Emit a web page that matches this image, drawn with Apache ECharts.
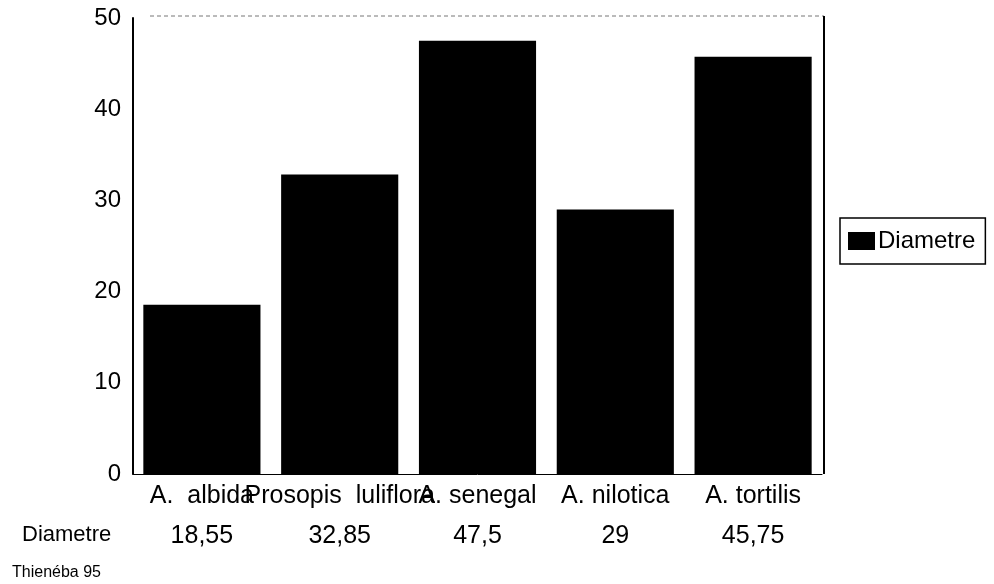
<!DOCTYPE html>
<html><head><meta charset="utf-8">
<script src="https://cdn.jsdelivr.net/npm/echarts@6/dist/echarts.min.js"></script>
<style>html,body{margin:0;padding:0;background:#fff}#c{width:994px;height:584px}</style>
</head><body><div id="c"></div>
<script>
const categories = ["A.  albida", "Prosopis  luliflora", "A. senegal", "A. nilotica", "A. tortilis"];
const diametre = [18.55, 32.85, 47.5, 29, 45.75];
const seriesName = "Diametre";
const yTicks = {min: 0, max: 50, interval: 10};
const footer = "Thienéba 95";

const fmt = v => String(v).replace('.', ',');
const chart = echarts.init(document.getElementById('c'));
const font = '"Liberation Sans", Arial, sans-serif';
chart.setOption({
  backgroundColor: '#fff',
  animation: false,
  grid: {left: 133, right: 172, top: 18, bottom: 110},
  legend: {
    show: true, left: 840, top: 218, orient: 'vertical',
    data: [seriesName], icon: 'rect', itemWidth: 27, itemHeight: 18, itemGap: 0,
    padding: [11, 10, 11, 8], borderColor: '#000', borderWidth: 1.5,
    textStyle: {fontFamily: font, fontSize: 24, color: '#000', padding: [0, 0, 0, -2]}
  },
  xAxis: [{
    type: 'category', data: categories, position: 'bottom',
    axisLine: {show: true, lineStyle: {color: '#000', width: 1}},
    axisTick: {show: false},
    axisLabel: {interval: 0, fontFamily: font, fontSize: 25, color: '#000', margin: 10}
  }, {
    type: 'category', data: diametre.map(fmt), position: 'bottom', offset: 40,
    axisLine: {show: false}, axisTick: {show: false},
    axisLabel: {interval: 0, fontFamily: font, fontSize: 25, color: '#000', margin: 10}
  }],
  yAxis: {
    type: 'value', min: yTicks.min, max: yTicks.max, interval: yTicks.interval,
    axisLine: {show: true, lineStyle: {color: '#000', width: 2}},
    axisTick: {show: false},
    splitLine: {show: false},
    axisLabel: {fontFamily: font, fontSize: 24, color: '#000', margin: 12}
  },
  series: [{
    name: seriesName, type: 'bar', data: diametre, xAxisIndex: 0,
    barCategoryGap: '15%',
    itemStyle: {color: '#000'}
  }],
  graphic: [
    {type: 'line', shape: {x1: 150, y1: 16, x2: 824, y2: 16}, style: {stroke: '#777', lineWidth: 1, lineDash: [4, 3]}, silent: true},
    {type: 'line', shape: {x1: 824, y1: 16, x2: 824, y2: 474}, style: {stroke: '#000', lineWidth: 2}, silent: true},
    {type: 'text', left: 22, top: 524, style: {text: seriesName, fontFamily: font, fontSize: 22, fill: '#000'}},
    {type: 'text', left: 12, top: 565, style: {text: footer, fontFamily: font, fontSize: 16, fill: '#000'}}
  ]
});
</script></body></html>
